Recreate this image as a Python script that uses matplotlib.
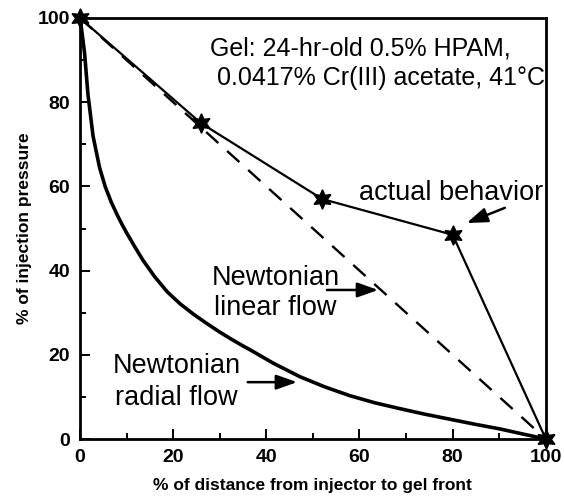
import matplotlib
matplotlib.use("Agg")
import matplotlib.pyplot as plt
from matplotlib.ticker import MultipleLocator

plt.rcParams["font.family"] = ["Liberation Sans", "DejaVu Sans"]

# measured behaviour of the gel
actual_x = [0, 26, 52, 80, 100]
actual_y = [100, 75, 57, 48.5, 0]

# newtonian linear flow
linear_x = [0, 100]
linear_y = [100, 0]

# newtonian radial flow
radial_x = [0, 0.5, 1.0, 1.7, 2.8, 4.2, 5.4, 6.7, 8.0, 9.2, 10.1, 11.8, 13.5, 16.0,
            18.7, 21.5, 24.3, 27.0, 30.0, 32.5, 35.0, 36.5, 41.5, 47.2, 52.5,
            57.9, 63.3, 68.7, 74.0, 79.4, 84.8, 90.1, 95.0, 100]
radial_y = [100, 96.0, 91.5, 82.0, 72.0, 64.5, 60.0, 56.3, 53.2, 50.6, 48.8, 45.6,
            42.5, 38.6, 35.0, 32.1, 29.7, 27.6, 25.4, 23.7, 22.1, 21.2, 18.0,
            14.8, 12.4, 10.3, 8.6, 7.2, 5.9, 4.7, 3.5, 2.4, 1.2, 0]

fig = plt.figure(figsize=(5.64, 5.0), dpi=100)
ax = fig.add_axes([0.1418, 0.122, 0.826, 0.842])

ax.plot(radial_x, radial_y, color="black", lw=2.6, zorder=2,
        solid_joinstyle="round", solid_capstyle="round")
ax.plot(linear_x, linear_y, color="black", lw=1.7, dashes=(7, 5), zorder=2)
ax.plot(actual_x, actual_y, color="black", lw=1.6, marker=(6, 1, 0),
        markersize=14, zorder=3, clip_on=False)

ax.set_xlim(0, 100)
ax.set_ylim(0, 100)
ax.xaxis.set_major_locator(MultipleLocator(20))
ax.xaxis.set_minor_locator(MultipleLocator(10))
ax.yaxis.set_major_locator(MultipleLocator(20))
ax.yaxis.set_minor_locator(MultipleLocator(10))
ax.tick_params(which="both", direction="in", width=1.4)
ax.tick_params(which="major", length=7, labelsize=14, pad=7)
ax.tick_params(which="minor", length=4)
for lab in ax.get_xticklabels() + ax.get_yticklabels():
    lab.set_fontweight("bold")
for sp in ax.spines.values():
    sp.set_linewidth(2)

ax.set_xlabel("% of distance from injector to gel front", fontsize=12.5,
              fontweight="bold", labelpad=9)
ax.set_ylabel("% of injection pressure", fontsize=12.5, fontweight="bold",
              labelpad=4)

ax.text(27.9, 91.2, "Gel: 24-hr-old 0.5% HPAM,", fontsize=18,
        ha="left", va="baseline")
ax.text(29.4, 84.1, "0.0417% Cr(III) acetate, 41\u00b0C", fontsize=18,
        ha="left", va="baseline")

arrow = dict(arrowstyle="-|>,head_length=0.9,head_width=0.32", color="black",
             lw=1.8, shrinkA=0, shrinkB=0, mutation_scale=14)

ax.text(99.4, 56.8, "actual behavior", fontsize=19.5, ha="right", va="baseline")
ax.annotate("", xy=(83.0, 51.3), xytext=(91.2, 54.9), arrowprops=arrow)

ax.text(42, 36.6, "Newtonian", fontsize=19.5, ha="center", va="baseline")
ax.text(42, 29.5, "linear flow", fontsize=19.5, ha="center", va="baseline")
ax.annotate("", xy=(64, 35.4), xytext=(53, 35.4), arrowprops=arrow)

ax.text(20.7, 15.7, "Newtonian", fontsize=19.5, ha="center", va="baseline")
ax.text(20.7, 8.1, "radial flow", fontsize=19.5, ha="center", va="baseline")
ax.annotate("", xy=(46.6, 13.5), xytext=(36, 13.5), arrowprops=arrow)

fig.savefig("out.png", dpi=100)
